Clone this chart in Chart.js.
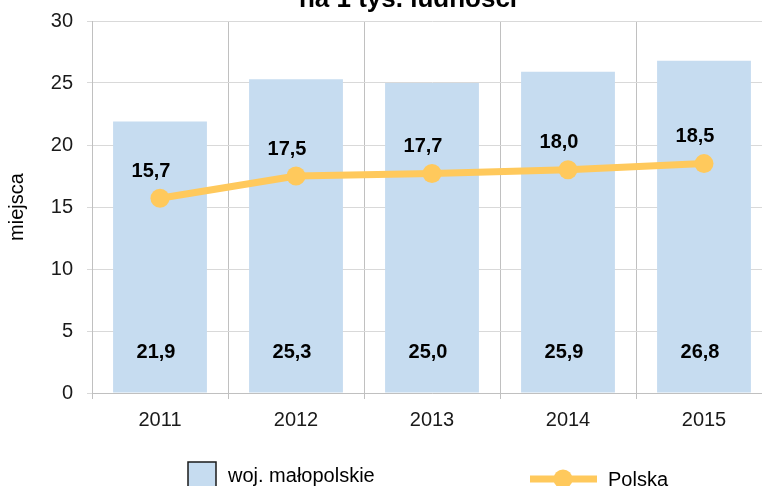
<!DOCTYPE html>
<html>
<head>
<meta charset="utf-8">
<script src="https://cdn.jsdelivr.net/npm/chart.js@4"></script>
<style>
	html, body { margin: 0; padding: 0; overflow: hidden; background: #fff; }
	#wrap { width: 762px; height: 486px; overflow: hidden; }
</style>
</head>
<body>
<div id="wrap"><canvas id="myChart" width="800" height="486"></canvas></div>
<script>
const years = ['2011', '2012', '2013', '2014', '2015']
const malopolskie = [21.9, 25.3, 25.0, 25.9, 26.8]
const polska = [15.7, 17.5, 17.7, 18.0, 18.5]
const yTicks = [0, 5, 10, 15, 20, 25, 30]

const FONT = '"Liberation Sans", Arial, sans-serif'
const BAR_COLOR = '#c6dcf0'
const LINE_COLOR = '#ffc95c'

var canvas = document.getElementById('myChart')

const fmt = (v) => v.toFixed(1).replace('.', ',')

// value labels: bar values near the base, line values above the points
const valueLabels = {
	id: 'valueLabels',
	afterDatasetsDraw(chart) {
		const ctx = chart.ctx
		const y0 = chart.scales.y.getPixelForValue(0)
		ctx.save()
		ctx.font = 'bold 20px ' + FONT
		ctx.fillStyle = '#000'
		ctx.textAlign = 'center'
		ctx.textBaseline = 'middle'
		chart.getDatasetMeta(0).data.forEach((bar, i) => {
			ctx.fillText(fmt(malopolskie[i]), bar.x - 4, y0 - 41)
		})
		chart.getDatasetMeta(1).data.forEach((pt, i) => {
			ctx.fillText(fmt(polska[i]), pt.x - 9, pt.y - 27)
		})
		ctx.restore()
	},
}

// title (second line only) and the legend along the bottom
const decorations = {
	id: 'decorations',
	afterDraw(chart) {
		const ctx = chart.ctx
		ctx.save()
		ctx.font = 'bold 26px ' + FONT
		ctx.fillStyle = '#000'
		ctx.textAlign = 'center'
		ctx.textBaseline = 'alphabetic'
		ctx.fillText('na 1 tys. ludności', 408, 7)

		const ds = chart.data.datasets
		ctx.font = '20px ' + FONT
		ctx.textAlign = 'left'
		// bar entry
		ctx.fillStyle = ds[0].backgroundColor
		ctx.fillRect(188, 462, 28, 28)
		ctx.strokeStyle = '#1a1a1a'
		ctx.lineWidth = 1.5
		ctx.strokeRect(188, 462, 28, 28)
		ctx.fillStyle = '#000'
		ctx.fillText(ds[0].label, 228, 482)
		// line entry
		ctx.strokeStyle = ds[1].borderColor
		ctx.lineWidth = 7
		ctx.beginPath()
		ctx.moveTo(530, 479)
		ctx.lineTo(597, 479)
		ctx.stroke()
		ctx.fillStyle = ds[1].pointBackgroundColor
		ctx.beginPath()
		ctx.arc(563, 479, 9.5, 0, Math.PI * 2)
		ctx.fill()
		ctx.fillStyle = '#000'
		ctx.fillText(ds[1].label, 608, 486)
		ctx.restore()
	},
}

const config = {
	type: 'bar',
	data: {
		labels: years,
		datasets: [
			{
				type: 'bar',
				label: 'woj. małopolskie',
				data: malopolskie,
				backgroundColor: BAR_COLOR,
				barPercentage: 0.69,
				categoryPercentage: 1,
				order: 1,
			},
			{
				type: 'line',
				label: 'Polska',
				data: polska,
				borderColor: LINE_COLOR,
				borderWidth: 7,
				pointRadius: 9.5,
				pointBackgroundColor: LINE_COLOR,
				pointBorderWidth: 0,
				tension: 0,
				order: 0,
			},
		],
	},
	options: {
		responsive: false,
		devicePixelRatio: 1,
		animation: false,
		layout: {
			padding: { top: 21, right: 28, bottom: 53, left: 0 },
		},
		plugins: {
			legend: { display: false },
			tooltip: { enabled: false },
			title: { display: false },
		},
		scales: {
			x: {
				offset: true,
				grid: {
					offset: true,
					color: '#c0c0c0',
					tickLength: 6,
				},
				border: { color: '#c0c0c0' },
				ticks: {
					font: { family: FONT, size: 20 },
					color: '#1a1a1a',
					padding: 9,
				},
				afterFit: (scale) => {
					scale.height = 40
					scale.paddingLeft = 0
					scale.paddingRight = 0
				},
			},
			y: {
				min: 0,
				max: 30,
				afterBuildTicks: (scale) => {
					scale.ticks = yTicks.map((v) => ({ value: v }))
				},
				grid: {
					color: '#d9d9d9',
					tickLength: 5,
				},
				border: { color: '#c0c0c0' },
				ticks: {
					font: { family: FONT, size: 20 },
					color: '#1a1a1a',
					padding: 14,
				},
				title: {
					display: true,
					text: 'miejsca',
					font: { family: FONT, size: 20 },
					color: '#000',
					padding: { top: 5, bottom: 0 },
				},
				afterFit: (scale) => {
					scale.width = 92
					scale.paddingTop = 0
					scale.paddingBottom = 0
				},
			},
		},
	},
	plugins: [valueLabels, decorations],
}

const myChart = new Chart(canvas, config)
</script>
</body>
</html>
